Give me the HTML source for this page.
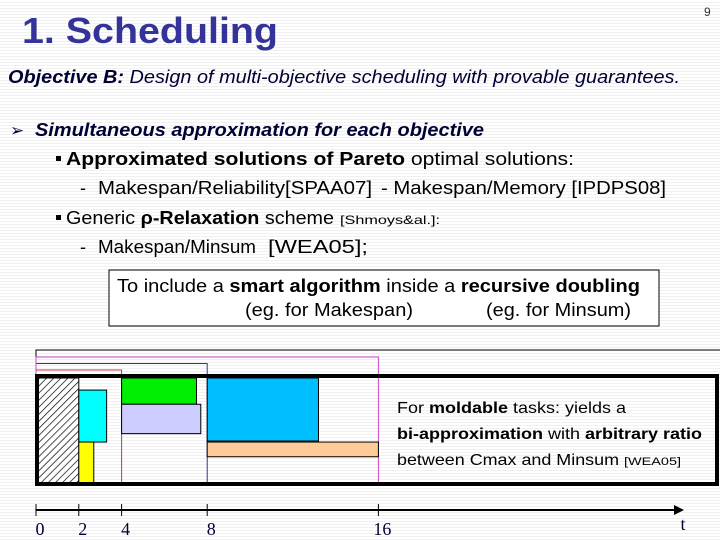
<!DOCTYPE html>
<html><head><meta charset="utf-8"><style>
html,body{margin:0;padding:0;width:720px;height:540px;overflow:hidden;}
body{background:repeating-linear-gradient(180deg,#ffffff 0px,#ffffff 2px,#f0f0f0 2px,#f0f0f0 3px);}
svg{position:absolute;left:0;top:0;}
text{font-family:"Liberation Sans",sans-serif;}
text.serif{font-family:"Liberation Serif",serif;}
</style></head><body>
<svg width="720" height="540" viewBox="0 0 720 540">
<text x="22" y="43" font-size="36" font-weight="bold" fill="#333399" textLength="256" lengthAdjust="spacingAndGlyphs">1. Scheduling</text>
<text x="704" y="16" font-size="12" fill="#333">9</text>
<text x="8" y="83" font-size="18" font-style="italic" fill="#000033" textLength="672" lengthAdjust="spacingAndGlyphs"><tspan font-weight="bold">Objective B:</tspan> Design of multi-objective scheduling with provable guarantees.</text>
<text x="10" y="136" font-size="17" fill="#000033">➢</text>
<text x="35" y="136" font-size="18" font-style="italic" font-weight="bold" fill="#000033" textLength="449" lengthAdjust="spacingAndGlyphs">Simultaneous approximation for each objective</text>
<rect x="56" y="156" width="5" height="5" fill="#000"/>
<text x="66" y="165" font-size="18" fill="#000" textLength="508" lengthAdjust="spacingAndGlyphs"><tspan font-weight="bold">Approximated solutions of Pareto</tspan> optimal solutions:</text>
<text x="80" y="194" font-size="18" fill="#000">-</text>
<text x="98" y="194" font-size="18" fill="#000" textLength="274" lengthAdjust="spacingAndGlyphs">Makespan/Reliability[SPAA07]</text>
<text x="381" y="194" font-size="18" fill="#000" textLength="285" lengthAdjust="spacingAndGlyphs">- Makespan/Memory [IPDPS08]</text>
<rect x="56" y="215" width="5" height="5" fill="#000"/>
<text x="66" y="224" font-size="18" fill="#000" textLength="268" lengthAdjust="spacingAndGlyphs">Generic <tspan font-weight="bold">ρ-Relaxation</tspan> scheme</text>
<text x="340" y="224" font-size="12" fill="#000" textLength="100" lengthAdjust="spacingAndGlyphs">[Shmoys&amp;al.]:</text>
<text x="80" y="253" font-size="18" fill="#000">-</text>
<text x="98" y="253" font-size="18" fill="#000" textLength="158" lengthAdjust="spacingAndGlyphs">Makespan/Minsum</text>
<text x="268" y="253" font-size="18" fill="#000" textLength="100" lengthAdjust="spacingAndGlyphs">[WEA05];</text>
<rect x="109" y="270" width="550" height="56" fill="#fff" stroke="#000" stroke-width="1"/>
<text x="117" y="292" font-size="18" fill="#000" textLength="523" lengthAdjust="spacingAndGlyphs">To include a <tspan font-weight="bold">smart algorithm</tspan> inside a <tspan font-weight="bold">recursive doubling</tspan></text>
<text x="245" y="316" font-size="18" fill="#000" textLength="168" lengthAdjust="spacingAndGlyphs">(eg. for Makespan)</text>
<text x="486" y="316" font-size="18" fill="#000" textLength="145" lengthAdjust="spacingAndGlyphs">(eg. for Minsum)</text>
<defs><pattern id="hatch" width="5" height="5" patternUnits="userSpaceOnUse" patternTransform="rotate(45)"><rect width="5" height="5" fill="#fff"/><line x1="0" y1="0" x2="0" y2="5" stroke="#000" stroke-width="1.4"/></pattern></defs>
<g id="chart"></g>
<text x="397" y="413" font-size="16" fill="#000" textLength="229" lengthAdjust="spacingAndGlyphs">For <tspan font-weight="bold">moldable</tspan> tasks: yields a</text>
<text x="397" y="439" font-size="16" fill="#000" textLength="305" lengthAdjust="spacingAndGlyphs"><tspan font-weight="bold">bi-approximation</tspan> with <tspan font-weight="bold">arbitrary ratio</tspan></text>
<text x="397" y="465" font-size="16" fill="#000" textLength="222" lengthAdjust="spacingAndGlyphs">between Cmax and Minsum</text>
<text x="624" y="465" font-size="11" fill="#000" textLength="57" lengthAdjust="spacingAndGlyphs">[WEA05]</text>
</svg>
<script>
const ticks=[0,2,4,8,16];
const doublings=[4,8,16];
const doublingColors=["#cc3333","#333399","#cc44cc"];
const taskNames=["hatched-task","cyan-task","yellow-task","green-task","lavender-task","blue-task","peach-task"];
const taskStart=[0,2,2,4,4,8,8];
const taskEnd=[2,3.3,2.7,7.5,7.7,13.2,16];
const procStart=[0,1.15,6.1,0,2.5,0,6.1];
const procEnd=[10,6.1,10,2.5,5.3,6.0,7.5];
const taskColors=["url(#hatch)","#00ffff","#ffff00","#00ee00","#ccccff","#00bfff","#ffcc99"];
const NS="http://www.w3.org/2000/svg";
const g=document.getElementById('chart');
const X=t=>36+21.4*t;
const Y=p=>378+10.5*p;
function mk(tag,attrs){const e=document.createElementNS(NS,tag);for(const k in attrs)e.setAttribute(k,attrs[k]);g.appendChild(e);return e;}
let ob=mk('polyline',{points:`${X(0)},485 ${X(0)},350 720,350`,fill:'none',stroke:'#000','stroke-width':1});


doublings.forEach((d,i)=>{const yy=370-i*6.5;
 const p=mk('polyline',{points:`${X(0)},485 ${X(0)},${yy} ${X(d)},${yy} ${X(d)},483`,fill:'none',stroke:doublingColors[i],'stroke-width':1});
 
 
});
taskNames.forEach((n,i)=>{
 const r=mk('rect',{x:X(taskStart[i]),y:Y(procStart[i]),width:X(taskEnd[i])-X(taskStart[i]),height:Y(procEnd[i])-Y(procStart[i]),fill:taskColors[i],stroke:'#000','stroke-width':1});
 
 
});
let fr=mk('rect',{x:37,y:376,width:680,height:108,fill:'none',stroke:'#000','stroke-width':4});


let ax=mk('line',{x1:X(0),y1:510,x2:676,y2:510,stroke:'#000','stroke-width':2});


let ah=mk('polygon',{points:'674,505 684,510 674,515',fill:'#000'});


ticks.forEach(t=>{
 const l=mk('line',{x1:X(t),y1:504,x2:X(t),y2:516,stroke:'#000','stroke-width':1});
 
 
 const tx=mk('text',{x:X(t)+4,y:535,'font-size':18,fill:'#000033','text-anchor':'middle','class':'serif'});
 tx.textContent=t;
 
 
});
let tl=mk('text',{x:683,y:530,'font-size':18,fill:'#000033','text-anchor':'middle','class':'serif'});
tl.textContent='t';


</script>
</body></html>
